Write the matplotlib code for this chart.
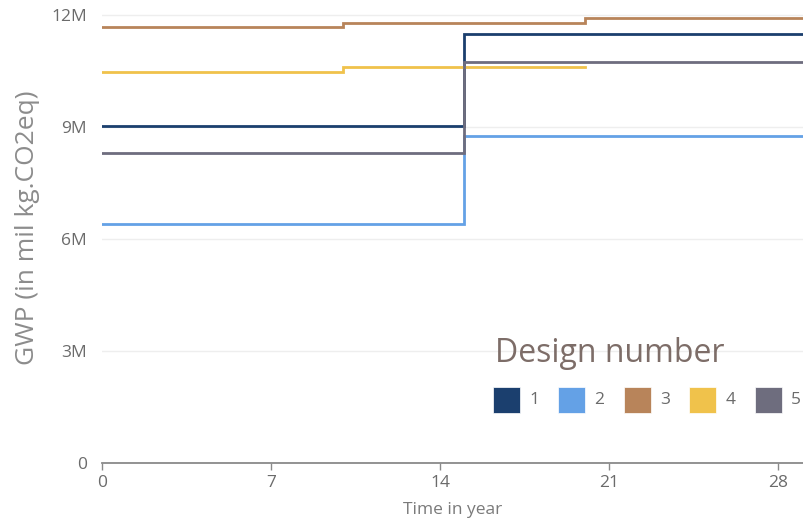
import numpy as np
import matplotlib.pyplot as plt
from matplotlib.patches import Rectangle

plt.rcParams['font.family'] = ['Open Sans', 'DejaVu Sans']

# step change points (years) and GWP values (kg CO2eq), step "post"
years = [0, 10, 15, 20, 30]
design_1 = [9.03e6, 9.03e6, 11.48e6, 11.48e6, 11.48e6]
design_2 = [6.40e6, 6.40e6, 8.76e6, 8.76e6, 8.76e6]
design_3 = [11.69e6, 11.79e6, 11.79e6, 11.91e6, 11.91e6]
design_4 = [10.48e6, 10.61e6, 10.61e6, np.nan, np.nan]
design_5 = [8.30e6, 8.30e6, 10.74e6, 10.74e6, 10.74e6]

labels = ["1", "2", "3", "4", "5"]
colors = ["#1b3f6e", "#64a1e6", "#b8845a", "#f0c24b", "#6e6d7e"]
series = [design_1, design_2, design_3, design_4, design_5]

W, H = 804, 522
fig = plt.figure(figsize=(W / 100, H / 100), dpi=100)
ax = fig.add_axes([102 / W, (H - 463) / H, (804 - 102) / W, 463 / H])

for vals, c in zip(series, colors):
    ax.step(years, vals, where="post", color=c, lw=2, solid_joinstyle="miter")

ax.set_xlim(0, 29.08)
ax.set_ylim(0, 12.4e6)
ax.set_xticks([0, 7, 14, 21, 28])
ax.set_yticks([0, 3e6, 6e6, 9e6, 12e6])
ax.set_yticklabels(["0", "3M", "6M", "9M", "12M"])

for s in ["top", "right", "left"]:
    ax.spines[s].set_visible(False)
ax.spines["bottom"].set_color("#8a8a8a")
ax.spines["bottom"].set_linewidth(1.3)
ax.tick_params(axis="x", length=5, width=1, color="#8a8a8a", labelcolor="#6b6b6b",
               labelsize=12.5, pad=3.5)
ax.tick_params(axis="y", length=0, labelcolor="#6b6b6b", labelsize=12.5, pad=11)
ax.grid(axis="y", color="#eeeeee", lw=1)
ax.set_axisbelow(True)

fig.text(28 / W, 1 - 228 / H, "GWP (in mil kg.CO2eq)", rotation=90, ha="center",
         va="center", fontsize=19, color="#8c8c8c")
fig.text(453 / W, 1 - 510 / H, "Time in year", ha="center", va="center",
         fontsize=12.5, color="#7a7a7a")

# legend
fig.text(610 / W, 1 - 354 / H, "Design number", ha="center", va="center",
         fontsize=23, color="#7d6d68")
for i, (lab, c) in enumerate(zip(labels, colors)):
    x0 = 493 + 65.5 * i
    fig.patches.append(Rectangle((x0 / W, 1 - 413 / H), 27 / W, 26 / H,
                                 transform=fig.transFigure, facecolor=c,
                                 edgecolor="white", lw=0.5))
    fig.text((x0 + 41) / W, 1 - 400 / H, lab, ha="center", va="center",
             fontsize=12.5, color="#6b6b6b")

fig.savefig("out.png", dpi=100)
